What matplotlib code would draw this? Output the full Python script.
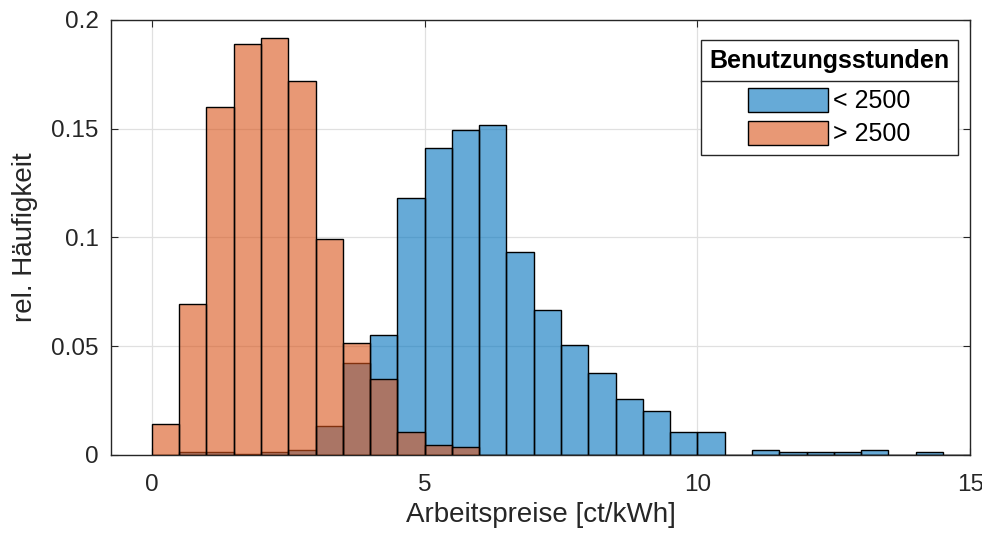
import matplotlib.pyplot as plt
import numpy as np
from matplotlib.lines import Line2D

plt.rcParams['font.family'] = ['Liberation Sans', 'DejaVu Sans']

# bin edges 0..15 ct/kWh, width 0.5
bin_edges = np.arange(0, 15.01, 0.5)
low_hours = [0, 0.0013, 0.0013, 0.0003, 0.0013, 0.0024, 0.013, 0.042, 0.055, 0.118,
             0.1412, 0.1494, 0.1518, 0.0933, 0.0665, 0.0503, 0.0375, 0.0257, 0.0199, 0.0105,
             0.0105, 0, 0.0024, 0.0013, 0.0013, 0.0013, 0.0024, 0, 0.0013, 0]
high_hours = [0.014, 0.0691, 0.160, 0.189, 0.1914, 0.1717, 0.0992, 0.0515, 0.035, 0.0105,
              0.0047, 0.0036, 0, 0, 0, 0, 0, 0, 0, 0,
              0, 0, 0, 0, 0, 0, 0, 0, 0, 0]
series_labels = ['< 2500', '> 2500']
legend_title = 'Benutzungsstunden'
x_ticks = [0, 5, 10, 15]
y_ticks = [0, 0.05, 0.1, 0.15, 0.2]
y_ticklabels = ['0', '0.05', '0.1', '0.15', '0.2']

blue = (0.0, 0.447, 0.741)
orange = (0.85, 0.325, 0.098)

fig = plt.figure(figsize=(9.82, 5.35), dpi=100)
ax = fig.add_axes([0.113, 0.15, 0.875, 0.813])

ax.bar(bin_edges[:-1], low_hours, width=0.5, align='edge', color=blue, alpha=0.6,
       edgecolor='none', zorder=2)
ax.bar(bin_edges[:-1], low_hours, width=0.5, align='edge', facecolor='none',
       edgecolor='black', linewidth=1.0, zorder=2)
ax.bar(bin_edges[:-1], high_hours, width=0.5, align='edge', color=orange, alpha=0.6,
       edgecolor='none', zorder=3)
ax.bar(bin_edges[:-1], high_hours, width=0.5, align='edge', facecolor='none',
       edgecolor='black', linewidth=1.0, zorder=3)

ax.set_xlim(-0.75, 15)
ax.set_ylim(0, 0.2)
ax.set_xticks(x_ticks)
ax.set_yticks(y_ticks)
ax.set_yticklabels(y_ticklabels)
ax.tick_params(direction='in', length=5, top=True, right=True, labelsize=17.5,
               colors='#262626')
ax.tick_params(axis='x', pad=14)
ax.tick_params(axis='y', pad=9)
ax.grid(True, color='#e0e0e0', linewidth=0.9, zorder=0)
ax.set_axisbelow(True)
for s in ax.spines.values():
    s.set_color('#262626')
    s.set_linewidth(1.0)

ax.set_xlabel('Arbeitspreise [ct/kWh]', fontsize=20, color='#262626', labelpad=4)
ax.set_ylabel('rel. Häufigkeit', fontsize=20, color='#262626', labelpad=9)

handles = [plt.Rectangle((0, 0), 1, 1, facecolor=c, edgecolor='black', linewidth=1.0)
           for c in [(0.4, 0.668, 0.845), (0.91, 0.595, 0.459)]]
leg = ax.legend(handles, series_labels, title=legend_title, loc='upper right',
                bbox_to_anchor=(0.986, 0.954), borderaxespad=0, fontsize=18,
                title_fontsize=18, fancybox=False, framealpha=1, edgecolor='#262626',
                handlelength=3.2, handleheight=1.1, borderpad=0.35, labelspacing=0.3,
                handletextpad=0.2, alignment='center')
leg.get_title().set_fontweight('bold')
leg.get_frame().set_linewidth(1.0)
# extra room between the title row and the entries
leg._legend_box.sep = 11

fig.canvas.draw()
lb = leg.get_window_extent()
tb = leg.get_title().get_window_extent()
ysep = tb.y0 - 8
fig.add_artist(Line2D([lb.x0, lb.x1], [ysep, ysep], transform=None,
                      color='#262626', linewidth=1.0, zorder=10))

fig.savefig('out.png', dpi=100)
